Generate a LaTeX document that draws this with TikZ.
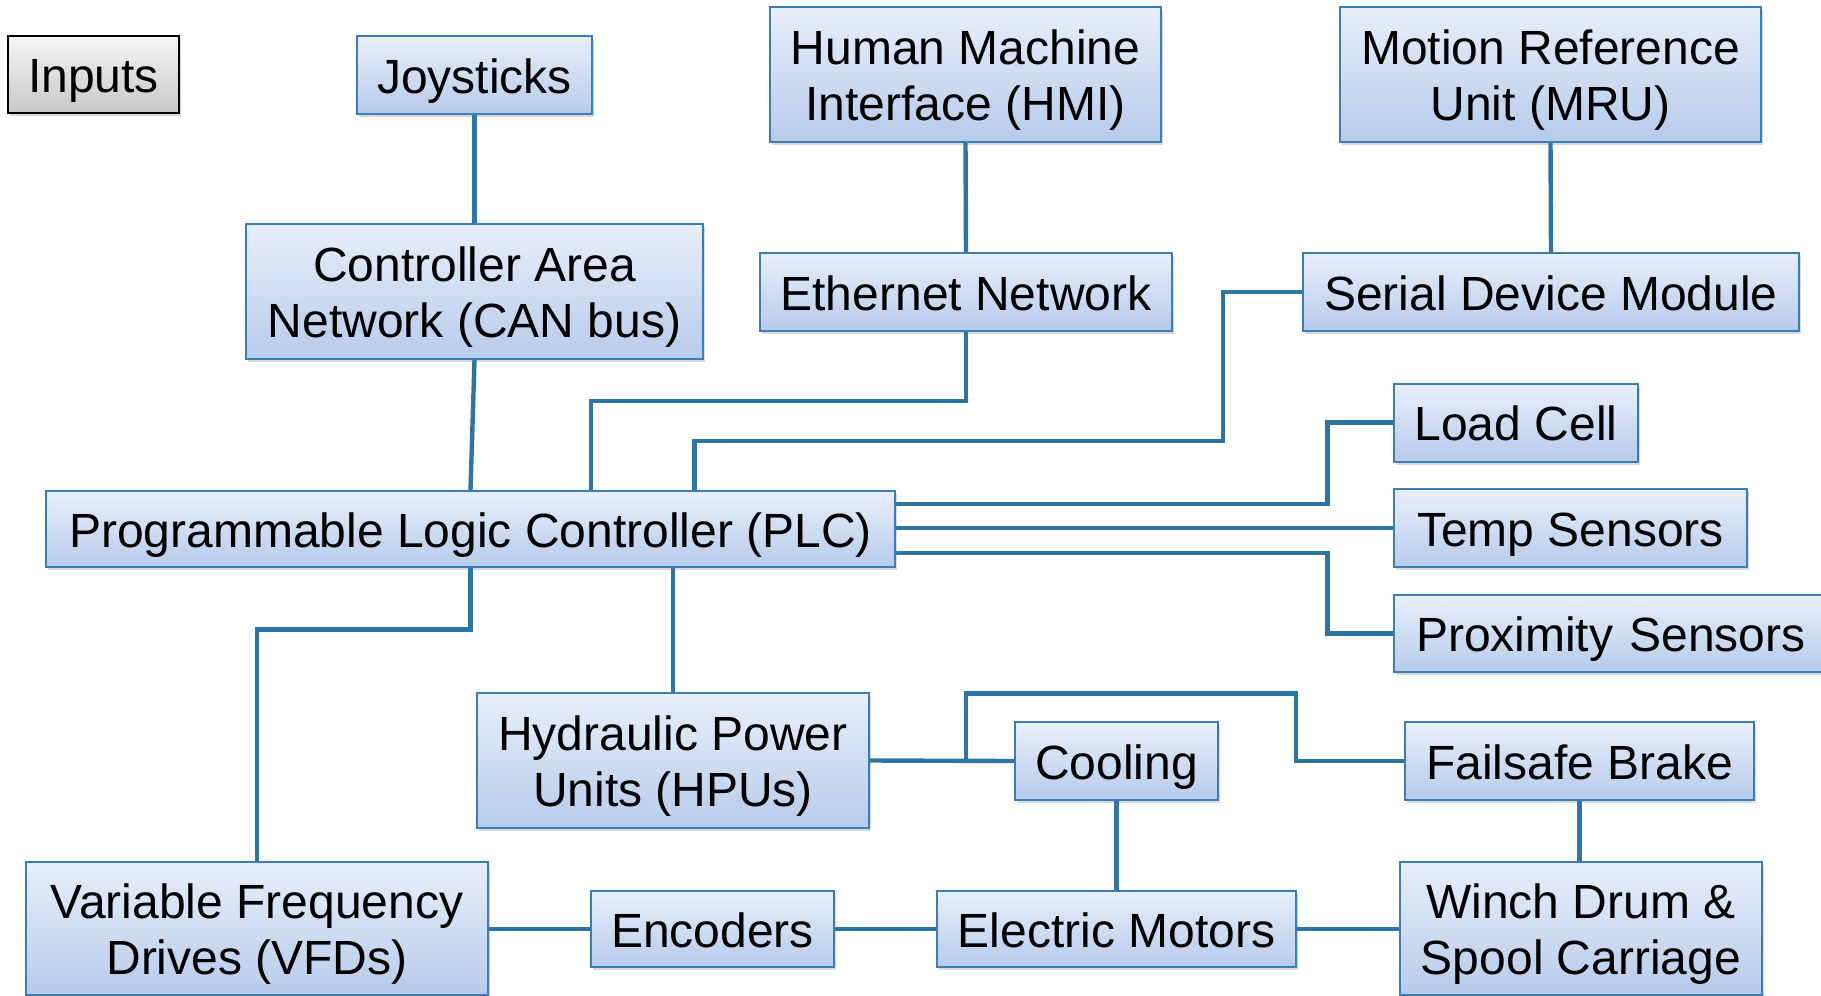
\documentclass[tikz,border=0pt]{standalone}
\usepackage{fontspec}
\setmainfont{Liberation Sans}
\usetikzlibrary{shadows}
\definecolor{boxtop}{RGB}{233,239,250}
\definecolor{boxbot}{RGB}{182,203,235}
\definecolor{boxline}{RGB}{58,125,184}
\definecolor{wire}{RGB}{46,117,166}
\definecolor{graytop}{RGB}{245,245,245}
\definecolor{graybot}{RGB}{200,200,200}
\newcommand\tstrut{\rule{0pt}{24pt}}
\newcommand\bstrut{\rule[-6pt]{0pt}{6pt}}
\tikzset{
  wh/.style 2 args={minimum width=#1*0.5pt, minimum height=#2*0.5pt},
  blk/.style={draw=boxline, line width=1pt, rectangle, inner sep=0pt, align=center,
    top color=boxtop, bottom color=boxbot,
    font=\fontsize{24pt}{28pt}\selectfont,
    drop shadow={shadow xshift=1pt, shadow yshift=-1.5pt, opacity=0.3}},
  grayblk/.style={blk, draw=black, top color=graytop, bottom color=graybot},
  wire/.style={draw=wire, line width=2.2pt}
}
\begin{document}
\begin{tikzpicture}[x=0.5pt, y=-0.5pt]
\useasboundingbox (0,0) rectangle (1821,996);
\clip (0,0) rectangle (1821,996);
% nodes
\node[grayblk, wh={171}{77}] (inp) at (93.5,74.5) {\tstrut Inputs\bstrut};
\node[blk, wh={235}{78}] (joy) at (474.5,75) {\tstrut Joysticks\bstrut};
\node[blk, wh={391}{135}] (hmi) at (965.5,74.5) {\tstrut Human Machine\\Interface (HMI)\bstrut};
\node[blk, wh={421}{135}] (mru) at (1550.5,74.5) {\tstrut Motion Reference\\Unit (MRU)\bstrut};
\node[blk, wh={457}{135}] (can) at (474.5,291.5) {\tstrut Controller Area\\Network (CAN bus)\bstrut};
\node[blk, wh={412}{78}] (eth) at (966,292) {\tstrut Ethernet Network\bstrut};
\node[blk, wh={496}{78}] (ser) at (1551,292) {\tstrut Serial Device Module\bstrut};
\node[blk, wh={244}{78}] (load) at (1516,422.5) {\tstrut Load Cell\bstrut};
\node[blk, wh={849}{76}] (plc) at (470.5,529) {\tstrut Programmable Logic Controller (PLC)\bstrut};
\node[blk, wh={353}{78}] (temp) at (1570.5,528) {\tstrut Temp Sensors\bstrut};
\node[blk, wh={446}{77}, inner xsep=11pt, text width=201pt, align=left] (prox) at (1617,633.5) {\tstrut Proximity Sensors\bstrut};
\node[blk, wh={392}{135}] (hyd) at (673,760.5) {\tstrut Hydraulic Power\\Units (HPUs)\bstrut};
\node[blk, wh={203}{78}] (cool) at (1116.5,761) {\tstrut Cooling\bstrut};
\node[blk, wh={349}{78}] (fail) at (1579.5,761) {\tstrut Failsafe Brake\bstrut};
\node[blk, wh={462}{133}] (vfd) at (257,928.5) {\tstrut Variable Frequency\\Drives (VFDs)\bstrut};
\node[blk, wh={243}{76}] (enc) at (712.5,929) {\tstrut Encoders\bstrut};
\node[blk, wh={359}{76}] (mot) at (1116.5,929) {\tstrut Electric Motors\bstrut};
\node[blk, wh={362}{133}] (win) at (1581,928.5) {\tstrut Winch Drum \&\\Spool Carriage\bstrut};
% connectors
\draw[wire] (joy.south) -- (can.north);
\draw[wire] (can.south) -- (plc.north);
\draw[wire] (eth.south) |- (591,401) -- (591,0 |- plc.north);
\draw[wire] (ser.west) -| (1223,441) -| (694.5,0 |- plc.north);
\draw[wire] (hmi.south) -- (eth.north);
\draw[wire] (mru.south) -- (ser.north);
\draw[wire] (plc.east |- 0,504) -| (1327.5,422.5) -- (load.west);
\draw[wire] (plc.east |- temp.west) -- (temp.west);
\draw[wire] (plc.east |- 0,553) -| (1327.5,633.5) -- (prox.west);
\draw[wire] (plc.south) |- (257,629.5) -- (vfd.north);
\draw[wire] (hyd.north |- plc.south) -- (hyd.north);
\draw[wire] (hyd.east) -- (cool.west);
\draw[wire] (966,0 |- hyd.east) |- (1296,693.5) |- (fail.west);
\draw[wire] (cool.south) -- (mot.north);
\draw[wire] (fail.south) -- (fail.south |- win.north);
\draw[wire] (vfd.east |- enc.west) -- (enc.west);
\draw[wire] (enc.east) -- (mot.west);
\draw[wire] (mot.east) -- (win.west |- mot.east);
\end{tikzpicture}
\end{document}
